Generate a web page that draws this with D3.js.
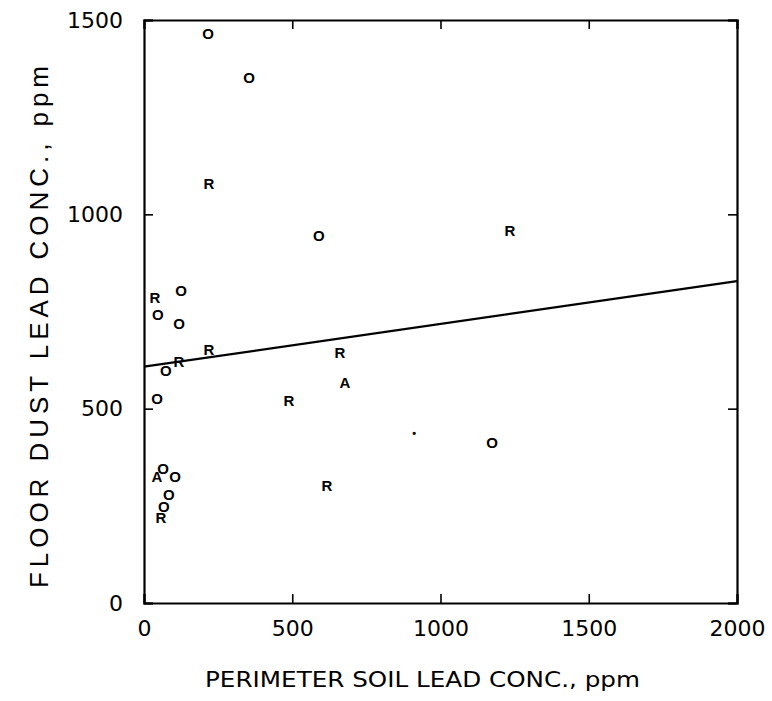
<!DOCTYPE html>
<html>
<head>
  <meta charset="UTF-8">
  <script src="https://d3js.org/d3.v7.min.js"></script>
  <style>
    * { margin: 0; padding: 0; }
    body { background: #fff; font-family: "DejaVu Sans", Arial, sans-serif; }
  </style>
</head>
<body>
  <div id="chart"></div>
  <script>
    // soil lead (x), floor dust lead (y), plotted symbol
    const soilLead = [216, 354, 219, 590, 1234, 37, 125, 47, 118, 219, 661, 118, 74, 678, 44, 489, 911, 1174, 617, 64, 44, 105, 84, 67, 57];
    const dustLead = [1464, 1353, 1078, 944, 957, 785, 805, 741, 718, 651, 643, 620, 597, 568, 527, 520, 437, 412, 301, 347, 324, 324, 280, 247, 219];
    const symbols  = ["O", "O", "R", "O", "R", "R", "O", "O", "O", "R", "R", "R", "O", "A", "O", "R", "•", "O", "R", "O", "A", "O", "O", "O", "R"];
    const fitX = [0, 2000];
    const fitY = [608, 828];
    const xTicks = [0, 500, 1000, 1500, 2000];
    const yTicks = [0, 500, 1000, 1500];

    const W = 772, H = 701;
    const margin = {top: 20, right: 35, bottom: 98, left: 144};
    const width = W - margin.left - margin.right,
          height = H - margin.top - margin.bottom;

    const svg = d3.select("#chart").append("svg")
      .attr("width", W).attr("height", H);
    const g = svg.append("g")
      .attr("transform", `translate(${margin.left},${margin.top})`);

    const x = d3.scaleLinear().domain([0, 2000]).range([0, width]);
    const y = d3.scaleLinear().domain([0, 1500]).range([height, 0]);

    // ticks pointing inward on all four sides
    const tk = 9;
    g.append("g").attr("transform", `translate(0,${height})`)
      .call(d3.axisBottom(x).tickValues(xTicks).tickSize(-tk).tickPadding(17).tickFormat(d3.format("d")));
    g.append("g")
      .call(d3.axisTop(x).tickValues(xTicks).tickSize(-tk).tickFormat(""));
    g.append("g")
      .call(d3.axisLeft(y).tickValues(yTicks).tickSize(-tk).tickPadding(21).tickFormat(d3.format("d")));
    g.append("g").attr("transform", `translate(${width},0)`)
      .call(d3.axisRight(y).tickValues(yTicks).tickSize(-tk).tickFormat(""));

    g.selectAll(".domain").attr("stroke", "#000").attr("stroke-width", 2.2);
    g.selectAll(".tick line").attr("stroke", "#000").attr("stroke-width", 1.6);
    g.selectAll(".tick text")
      .attr("fill", "#000")
      .style("font-size", "22px")
      .style("font-family", "'DejaVu Sans', Arial, sans-serif");

    // regression line
    g.append("line")
      .attr("x1", x(fitX[0])).attr("y1", y(fitY[0]))
      .attr("x2", x(fitX[1])).attr("y2", y(fitY[1]))
      .attr("stroke", "#000").attr("stroke-width", 2.2);

    // symbols
    g.selectAll(".pt")
      .data(soilLead.map((v, i) => ({x: v, y: dustLead[i], s: symbols[i]})))
      .enter().append("text")
      .attr("class", "pt")
      .attr("x", d => x(d.x))
      .attr("y", d => y(d.y))
      .attr("dy", "0.36em")
      .attr("text-anchor", "middle")
      .style("font-size", d => d.s === "•" ? "11px" : "15px")
      .style("font-weight", "bold")
      .style("font-family", "'Liberation Sans', Arial, sans-serif")
      .text(d => d.s);

    // axis titles
    svg.append("text")
      .attr("x", 205)
      .attr("y", 687)
      .attr("textLength", 435)
      .attr("lengthAdjust", "spacingAndGlyphs")
      .style("font-size", "21px")
      .text("PERIMETER SOIL LEAD CONC., ppm");

    svg.append("text")
      .attr("transform", "translate(48,588) rotate(-90)")
      .attr("textLength", 522)
      .attr("lengthAdjust", "spacing")
      .style("font-size", "26px")
      .style("font-family", "'Liberation Sans', Arial, sans-serif")
      .text("FLOOR DUST LEAD CONC., ppm");
  </script>
</body>
</html>
